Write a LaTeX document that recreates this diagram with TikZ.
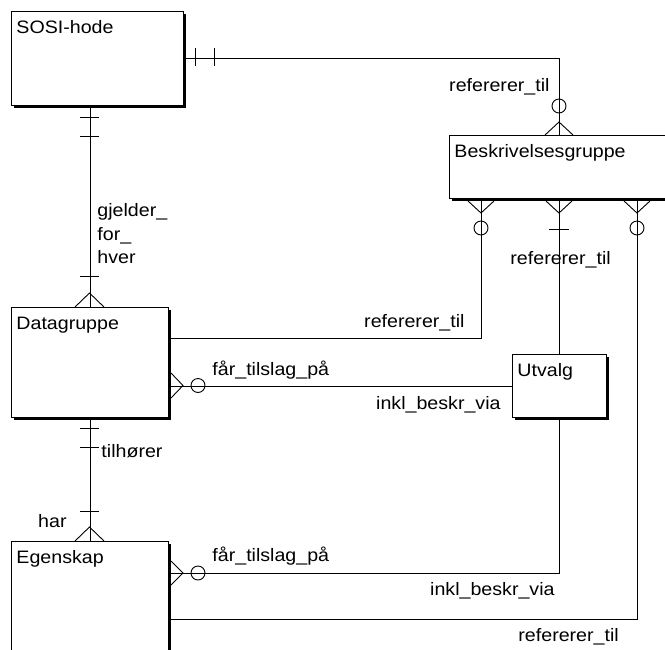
\documentclass[tikz,border=0pt]{standalone}
\usepackage{fontspec}
\setmainfont[FakeStretch=1.09]{Liberation Sans}
\usetikzlibrary{shadows}

\begin{document}
\begin{tikzpicture}[x=1pt,y=-1pt,line width=0.9pt,
  font=\fontsize{18}{23.5}\selectfont,
  entity/.style={draw,fill=white,anchor=north west,align=left,
    inner xsep=5pt,inner ysep=4pt,text height=18.5pt,
    drop shadow={shadow xshift=3pt,shadow yshift=-3pt,fill=black,opacity=1}},
  lbl/.style={inner sep=0pt}]
\useasboundingbox (0,0) rectangle (665,649);
\clip (0,0) rectangle (665,649);

\node[entity,text width=162pt,text depth=67.5pt] (sosi) at (11,11) {SOSI-hode};
\node[entity,text width=210pt,text depth=36.5pt] (beskr) at (449,135) {Beskrivelsesgruppe};
\node[entity,text width=147pt,text depth=83.5pt] (datag) at (11,307) {Datagruppe};
\node[entity,text width=84pt,text depth=36.5pt] (utvalg) at (512,354) {Utvalg};
\node[entity,text width=147pt,text depth=133.5pt] (egensk) at (11,541) {Egenskap};

% SOSI-hode -- Beskrivelsesgruppe
\draw (sosi.east) -| (beskr.north);
\draw (195,48) -- (195,66);
\draw (214,48) -- (214,66);
\draw (545,135) -- (559,122) -- (573,135);
\draw (559,106) circle (7pt);
\node[lbl,anchor=base east] (r1) at (550,91) {refererer\_til};

% SOSI-hode -- Datagruppe
\draw (datag.north) -- (datag.north |- sosi.south);
\draw (80,117) -- (99,117);
\draw (80,136) -- (99,136);
\draw (80,276) -- (99,276);
\draw (75,307) -- (89.5,293) -- (104,307);
\node[lbl,anchor=north west,align=left] (g1) at (97,203) {gjelder\_\\for\_\\hver};

% Beskrivelsesgruppe -- Datagruppe
\draw ([xshift=-78pt]beskr.south) |- ([yshift=-31pt]datag.north east);
\draw (468,201) -- (481,213) -- (494,201);
\draw (481,228) circle (7pt);
\node[lbl,anchor=base east] (r2) at (465,327) {refererer\_til};

% Beskrivelsesgruppe -- Utvalg
\draw (beskr.south) -- (utvalg.north);
\draw (546,201) -- (559,213) -- (572,201);
\draw (549,229) -- (569,229);
\node[lbl,anchor=base west] (r3) at (510,264) {refererer\_til};

% Utvalg -- Datagruppe
\draw (utvalg.west) -- (datag.east |- utvalg.west);
\draw (171,373) -- (183,385.5) -- (171,398);
\draw (198,385.5) circle (7pt);
\node[lbl,anchor=base west] (f1) at (212,375) {får\_tilslag\_på};
\node[lbl,anchor=base east] (i1) at (501,409) {inkl\_beskr\_via};

% Datagruppe -- Egenskap
\draw (datag.south) -- (egensk.north);
\draw (80,428) -- (99,428);
\draw (80,447) -- (99,447);
\draw (80,511) -- (99,511);
\draw (75,541) -- (89.5,527) -- (104,541);
\node[lbl,anchor=base west] (t1) at (101,457) {tilhører};
\node[lbl,anchor=base east] (h1) at (67,527) {har};

% Utvalg -- Egenskap
\draw (utvalg.south) |- ([yshift=-32pt]egensk.north east);
\draw (171,561) -- (183,573) -- (171,585);
\draw (198,573) circle (7pt);
\node[lbl,anchor=base west] (f2) at (212,561) {får\_tilslag\_på};
\node[lbl,anchor=base east] (i2) at (555,595) {inkl\_beskr\_via};

% Beskrivelsesgruppe -- Egenskap
\draw ([xshift=78pt]beskr.south) |- ([yshift=-78pt]egensk.north east);
\draw (624,201) -- (637,213) -- (650,201);
\draw (637,228) circle (7pt);
\node[lbl,anchor=base west] (r4) at (518,641) {refererer\_til};
\end{tikzpicture}
\end{document}
